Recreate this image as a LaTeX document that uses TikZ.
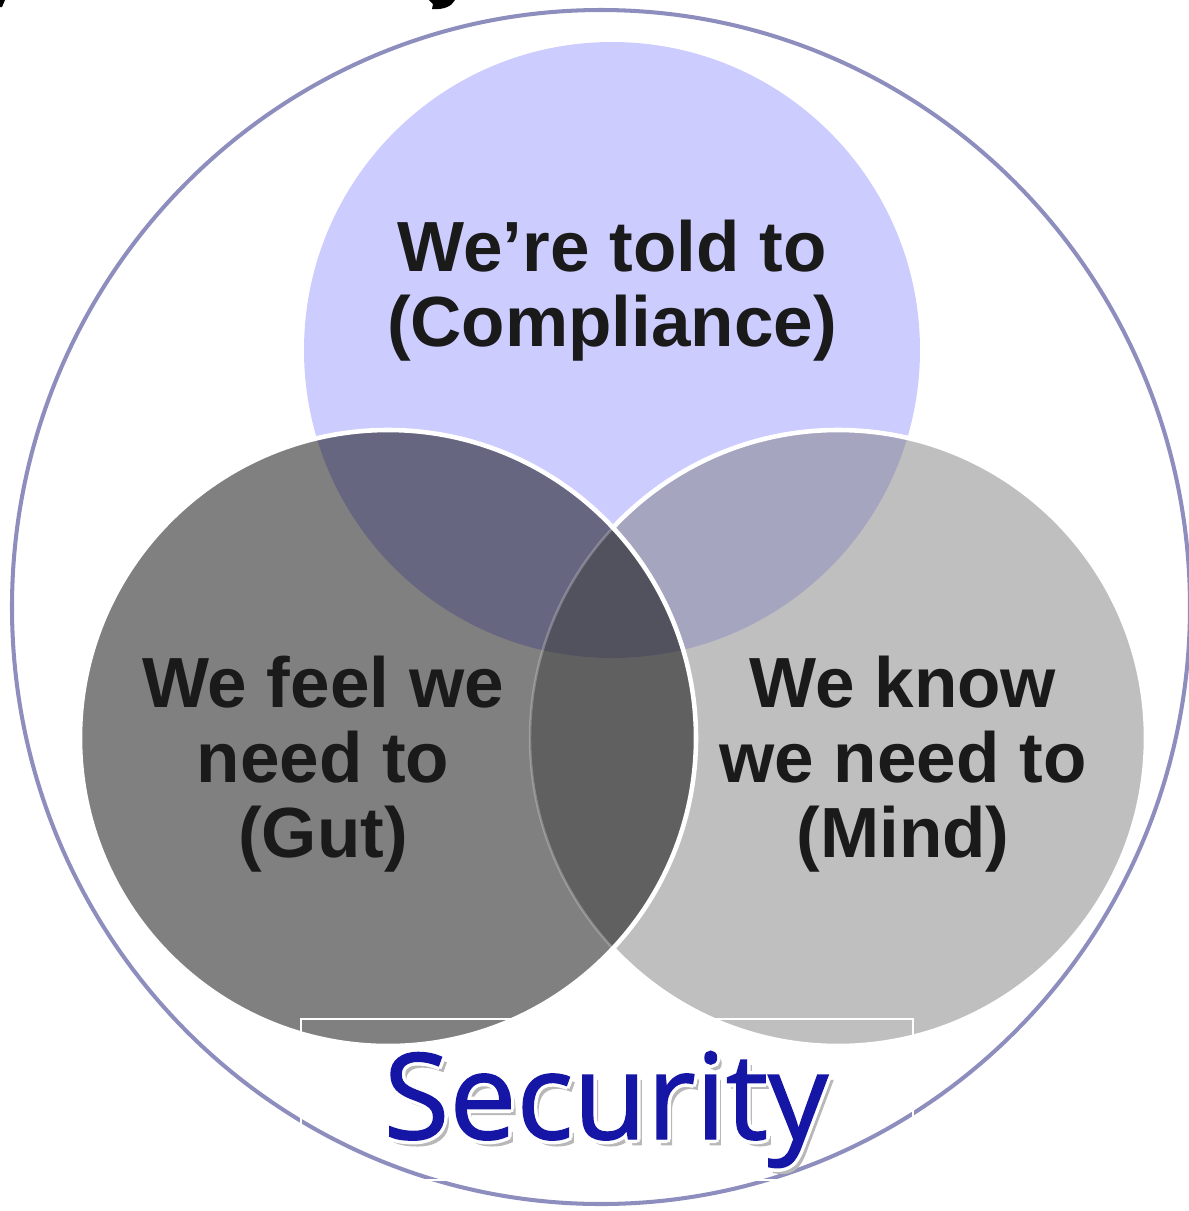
\documentclass[tikz,border=0pt]{standalone}
\usepackage{fontspec}
\setmainfont{Liberation Sans}
\newfontfamily\secfont[FakeBold=1.2]{Open Sans}
\usepackage{xcolor}
\definecolor{lilas}{HTML}{CCCCFF}
\definecolor{grisosc}{HTML}{808080}
\definecolor{grisclar}{HTML}{BFBFBF}
\definecolor{lilagris}{HTML}{666680}
\definecolor{lilaclar}{HTML}{A5A5C0}
\definecolor{grismed}{HTML}{606060}
\definecolor{centro}{HTML}{52525E}
\definecolor{borde}{HTML}{8E8EBE}
\definecolor{texto}{HTML}{1A1A1A}
\definecolor{azul}{HTML}{1616A6}
\usetikzlibrary{positioning}

\tikzset{
  etiqueta/.style={align=center, text=texto, inner sep=0pt,
    font=\fontsize{20.2pt}{21.3pt}\selectfont\bfseries},
  seguridad/.style={inner sep=0pt, anchor=base,
    font=\fontsize{34pt}{38pt}\selectfont\secfont},
}
% texto con sombra y borde blanco en una sola caja
\newcommand{\capas}[1]{%
  \makebox[0pt][l]{\hspace{1.3pt}\raisebox{-1.6pt}{\textcolor{black!28}{#1}}}%
  \foreach \dx/\dy in {1/0,-1/0,0/1,0/-1,.7/.7,.7/-.7,-.7/.7,-.7/-.7}{%
    \makebox[0pt][l]{\hspace{\dx pt}\raisebox{\dy pt}{\textcolor{white}{#1}}}}%
  \textcolor{azul}{#1}}

\begin{document}
\begin{tikzpicture}[x=0.01cm,y=-0.01cm]
        \useasboundingbox (0,0) rectangle (1189,1211);
        % Centros de los tres circulos
        \coordinate (cT) at (612,350);
        \coordinate (cL) at (388,738);
        \coordinate (cR) at (838,738);
        % Circulo exterior
        \draw[borde, line width=1.15pt] (601,607) ellipse [x radius=589, y radius=597];
        % Resto del titulo cortado arriba
        \fill[black] (429,0) -- (455,0) .. controls (452,6) and (444,10) .. (432,9) -- (433,4) -- cycle;
        \fill[black] (0,0) -- (5,0) -- (2,7) -- (0,7) -- cycle;
        % Circulo de arriba y circulo derecho
        \fill[lilas] (cT) circle [radius=308];
        \fill[grisclar] (cR) circle [radius=308];
        \begin{scope}
            \clip (cT) circle [radius=308];
            \fill[lilaclar] (cR) circle [radius=308];
        \end{scope}
        \draw[white, line width=1.3pt] (cR) circle [radius=308];
        % Circulo izquierdo y sus cruces
        \begin{scope}
            \clip (cL) circle [radius=308];
            \fill[grisosc] (cL) circle [radius=308];
            \fill[grismed] (cR) circle [radius=308];
            \begin{scope}
                \clip (cT) circle [radius=308];
                \fill[lilagris] (cL) circle [radius=308];
                \fill[centro] (cR) circle [radius=308];
            \end{scope}
            \draw[white, opacity=.25, line width=.7pt] (cR) circle [radius=308];
        \end{scope}
        \draw[white, line width=1.3pt] (cL) circle [radius=308];
        % Textos de los circulos
        \node[etiqueta] (told) at (612,291) {We’re told to\\(Compliance)};
        \node[etiqueta] (gut) at (323,764) {We feel we\\need to\\(Gut)};
        \node[etiqueta] (mind) at (903,764) {We know\\we need to\\(Mind)};
        % Marco del cuadro de texto
        \draw[white, line width=.6pt] (301,1019) rectangle (913,1180);
        % Texto de abajo
        \node[seguridad] (security) at (606,1139) {\capas{Security}};
\end{tikzpicture}
\end{document}
